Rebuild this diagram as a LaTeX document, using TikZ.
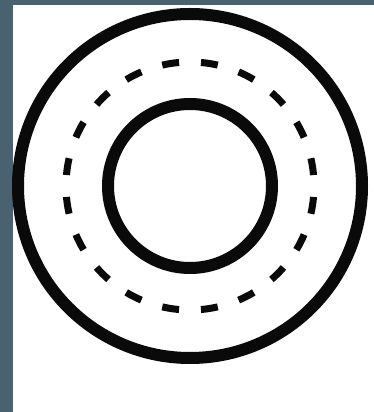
\documentclass[tikz,border=0pt]{standalone}
\usepackage{xcolor}
\usepackage{tikz}
\usetikzlibrary{positioning}
\definecolor{ringBg}{HTML}{4A6270}
\definecolor{ringInk}{HTML}{0A0A0A}
\tikzset{
  ringnode/.style={circle, draw=ringInk, inner sep=0pt, fill=none},
  outerring/.style={ringnode, line width=12pt, minimum size=344pt},
  innerring/.style={ringnode, line width=12pt, minimum size=164pt},
  dashring/.style={ringnode, line width=7pt, minimum size=248pt,
    dash pattern=on 17pt off 21.96pt, dash phase=28pt},
  panel/.style={fill=white, draw=none}
}
\begin{document}
\begin{tikzpicture}[x=1pt, y=1pt]
  % background and white panel
  \fill[ringBg] (0,0) rectangle (374,412);
  \useasboundingbox (0,0) rectangle (374,412);
  \fill[panel] (13,0) rectangle (374,407);
  % the three rings
  \coordinate (ctr) at (190,226);
  \node[outerring] (outer) at (ctr) {};
  \node[dashring] (mid) at (ctr) {};
  \node[innerring] (inner) at (ctr) {};
\end{tikzpicture}
\end{document}
